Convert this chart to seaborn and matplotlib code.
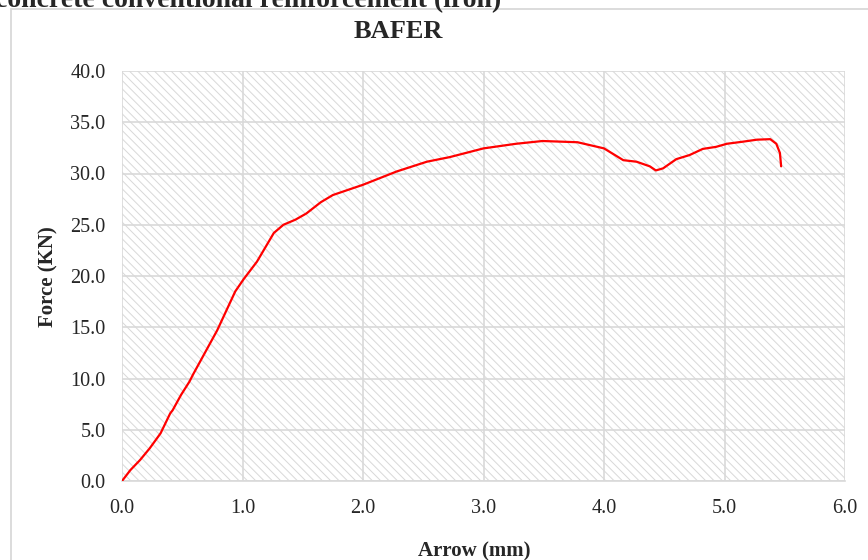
import matplotlib
matplotlib.use("Agg")
import matplotlib.pyplot as plt
import matplotlib.patches as mpatches
import pandas as pd
import seaborn as sns

# displacement (mm) and force (kN)
arrow_mm = [0.0, 0.07, 0.15, 0.23, 0.32, 0.40, 0.42, 0.49, 0.56, 0.59,
            0.79, 0.94, 1.01, 1.12, 1.26, 1.34, 1.44, 1.53, 1.65, 1.75,
            2.00, 2.28, 2.53, 2.72, 3.00, 3.27, 3.49, 3.78, 4.00, 4.16,
            4.27, 4.38, 4.43, 4.49, 4.60, 4.71, 4.82, 4.93, 5.02, 5.15,
            5.27, 5.38, 5.43, 5.46, 5.47]
force_kn = [0.0, 1.07, 2.05, 3.19, 4.65, 6.6, 6.9, 8.4, 9.7, 10.4,
            14.7, 18.5, 19.7, 21.4, 24.2, 25.0, 25.5, 26.1, 27.2, 27.9,
            28.9, 30.2, 31.15, 31.6, 32.45, 32.9, 33.17, 33.05, 32.45, 31.3,
            31.15, 30.7, 30.3, 30.5, 31.4, 31.8, 32.4, 32.6, 32.9, 33.1,
            33.3, 33.35, 32.9, 32.0, 30.7]
x_ticks = [0, 1, 2, 3, 4, 5, 6]
y_ticks = [0, 5, 10, 15, 20, 25, 30, 35, 40]

GRID = "#d9d9d9"
W, H = 868, 560

sns.set_style("white")
plt.rcParams["font.family"] = ["Liberation Serif", "DejaVu Serif"]
plt.rcParams["hatch.color"] = "#d8d8d8"
plt.rcParams["hatch.linewidth"] = 0.7

df = pd.DataFrame({"arrow": arrow_mm, "force": force_kn})

fig = plt.figure(figsize=(W / 100, H / 100), dpi=100)
ax = fig.add_axes([122 / W, 1 - 481 / H, (845 - 122) / W, (481 - 71) / H])

# hatched plot area like the excel pattern fill
ax.add_patch(mpatches.Rectangle((0, 0), 1, 1, transform=ax.transAxes,
                                facecolor="white", edgecolor="#d8d8d8",
                                linewidth=0, hatch="\\\\\\\\", zorder=0.1))

sns.lineplot(data=df, x="arrow", y="force", ax=ax, color="#ff0000",
             linewidth=1.6, sort=False, estimator=None, zorder=3)

ax.set_xlim(0, 6)
ax.set_ylim(0, 40)
ax.set_xticks(x_ticks)
ax.set_yticks(y_ticks)
ax.set_xticklabels([f"{v:.1f}" for v in x_ticks])
ax.set_yticklabels([f"{v:.1f}" for v in y_ticks])
ax.set_axisbelow(True)
ax.grid(True, color=GRID, linewidth=1.2)
ax.tick_params(axis="y", length=4.3, width=1.2, color=GRID, pad=7.5, labelsize=14.5)
ax.tick_params(axis="x", length=0, pad=13, labelsize=14.5)
for side in ["left", "top", "right"]:
    ax.spines[side].set_visible(False)
ax.spines["bottom"].set_color(GRID)
ax.spines["bottom"].set_linewidth(1.2)
ax.set_xlabel("")
ax.set_ylabel("")

fig.text(48 / W, 1 - 277 / H, "Force (KN)", rotation=90, ha="center",
         va="center", fontsize=15, fontweight="bold")
fig.text(474 / W, 1 - 551 / H, "Arrow (mm)", ha="center", va="center",
         fontsize=15, fontweight="bold")
fig.text(398 / W, 1 - 37.7 / H, "BAFER", ha="center", va="baseline",
         fontsize=19, fontweight="bold")
# this heading is clipped by the top edge in the reference as well
fig.text(-5 / W, 1 - 7 / H, "concrete conventional reinforcement (iron)",
         ha="left", va="baseline", fontsize=20, fontweight="bold")

# chart area border, right and bottom edges fall outside the canvas
fig.patches.append(mpatches.Rectangle((11 / W, -0.05), 1.1, (H - 9) / H + 0.05,
                                      transform=fig.transFigure, fill=False,
                                      edgecolor=GRID, linewidth=1.3))

fig.savefig("out.png", dpi=100)
